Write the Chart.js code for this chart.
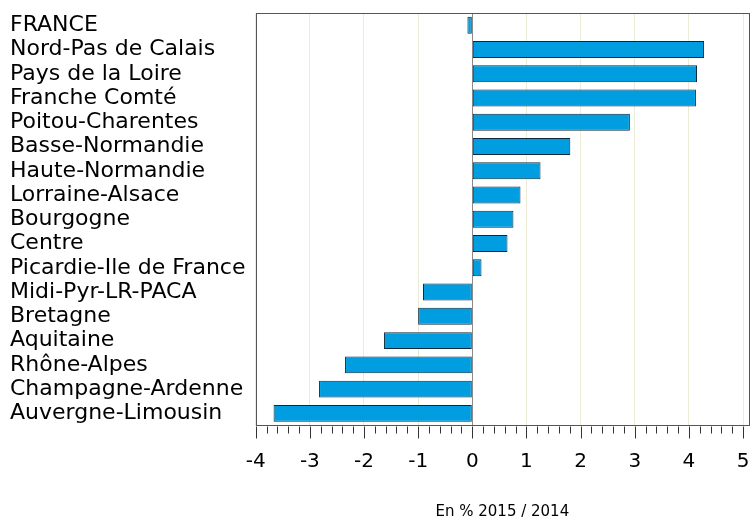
<!DOCTYPE html>
<html>
<head>
<meta charset="utf-8">
<script src="https://cdn.jsdelivr.net/npm/chart.js@4.4.0/dist/chart.umd.min.js"></script>
<style>
  html, body { margin: 0; padding: 0; background: #fff; }
  #wrap { width: 750px; height: 517px; }
</style>
</head>
<body>
<div id="wrap"><canvas id="chart" width="750" height="517"></canvas></div>
<script>
// categories, top to bottom
const regions = [
    'FRANCE', 'Nord-Pas de Calais', 'Pays de la Loire', 'Franche Comté',
    'Poitou-Charentes', 'Basse-Normandie', 'Haute-Normandie', 'Lorraine-Alsace',
    'Bourgogne', 'Centre', 'Picardie-Ile de France', 'Midi-Pyr-LR-PACA',
    'Bretagne', 'Aquitaine', 'Rhône-Alpes', 'Champagne-Ardenne', 'Auvergne-Limousin'
];
// % change 2015 / 2014
const changes = [
    -0.09, 4.28, 4.15, 4.13,
    2.91, 1.81, 1.26, 0.89,
    0.76, 0.65, 0.17, -0.91,
    -1.00, -1.63, -2.35, -2.83, -3.67
];
const majorTicks = [-4, -3, -2, -1, 0, 1, 2, 3, 4, 5];
const minorStep = 0.2;
const axisMin = -4;
const axisMax = 5.11;
const axisTitle = 'En % 2015 / 2014';

const FONT = 'DejaVu Sans';

// plot frame + major/minor tick marks under the box
const framePlugin = {
    id: 'framePlugin',
    afterDraw(chart) {
        const { ctx, chartArea: a, scales: { x } } = chart;
        const bottom = Math.round(a.bottom) + 0.5;
        ctx.save();
        ctx.strokeStyle = '#333';
        ctx.lineWidth = 1;
        ctx.beginPath();
        const first = majorTicks[0];
        const last = majorTicks[majorTicks.length - 1];
        const n = Math.round((last - first) / minorStep);
        for (let k = 0; k <= n; k++) {
            const v = first + k * minorStep;
            const px = Math.round(x.getPixelForValue(v)) + 0.5;
            const major = k % Math.round(1 / minorStep) === 0;
            ctx.moveTo(px, bottom);
            ctx.lineTo(px, bottom + (major ? 12 : 7));
        }
        ctx.stroke();
        ctx.strokeStyle = '#555';
        ctx.strokeRect(Math.round(a.left) + 0.5, Math.round(a.top) + 0.5,
            Math.round(a.width), Math.round(a.height));
        ctx.restore();
    }
};

new Chart(document.getElementById('chart'), {
    type: 'bar',
    data: {
        labels: regions,
        datasets: [{
            data: changes,
            backgroundColor: '#009ee0',
            borderColor: '#0b2a3c',
            borderWidth: 1,
            borderSkipped: false,
            categoryPercentage: 1,
            barPercentage: 0.7
        }]
    },
    options: {
        indexAxis: 'y',
        responsive: false,
        animation: false,
        layout: { padding: { left: 10, right: 1, top: 11, bottom: 0 } },
        plugins: {
            legend: { display: false },
            tooltip: { enabled: false }
        },
        scales: {
            x: {
                type: 'linear',
                min: axisMin,
                max: axisMax,
                afterBuildTicks(scale) {
                    scale.ticks = majorTicks.map(v => ({ value: v }));
                },
                grid: {
                    color: c => (c.tick && c.tick.value === 0) ? '#8a8a8a' : '#ebebd6',
                    lineWidth: 1,
                    drawTicks: true,
                    tickLength: 24,
                    tickColor: 'rgba(0,0,0,0)'
                },
                border: { display: false },
                ticks: {
                    color: '#000',
                    font: { family: FONT, size: 20 },
                    padding: 0,
                    maxRotation: 0,
                    autoSkip: false
                },
                title: {
                    display: true,
                    text: axisTitle,
                    color: '#000',
                    font: { family: FONT, size: 15, lineHeight: 0.6 },
                    padding: 0
                },
                afterFit(scale) {
                    scale.height = 91.5;
                    scale.paddingLeft = 0;
                    scale.paddingRight = 0;
                }
            },
            y: {
                type: 'category',
                offset: true,
                grid: { display: false },
                border: { display: false },
                ticks: {
                    color: '#000',
                    crossAlign: 'far',
                    font: { family: FONT, size: 22 },
                    padding: 0,
                    autoSkip: false
                },
                afterFit(scale) { scale.width = 245.7; }
            }
        }
    },
    plugins: [framePlugin]
});
</script>
</body>
</html>
